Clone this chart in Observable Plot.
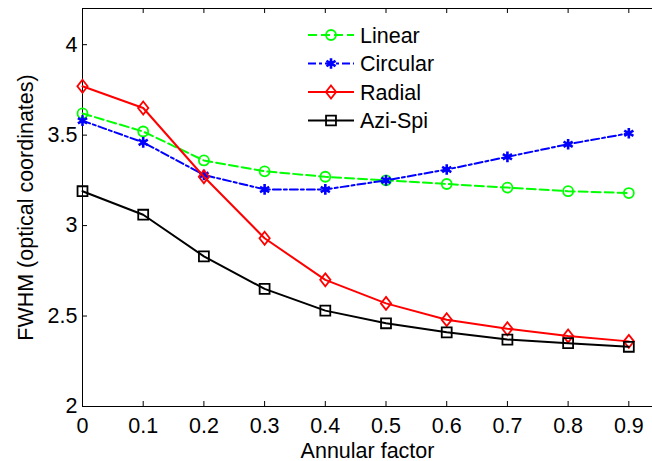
<!DOCTYPE html>
<html><head><meta charset="utf-8">
<script src="https://cdn.jsdelivr.net/npm/d3@7"></script>
<script src="https://cdn.jsdelivr.net/npm/@observablehq/plot@0.6"></script>
<style>
html,body{margin:0;padding:0;background:#fff;overflow:hidden}
</style></head><body><div id="chart"></div>
<script>
const annularFactor = [0, 0.1, 0.2, 0.3, 0.4, 0.5, 0.6, 0.7, 0.8, 0.9];
const linear   = [3.62, 3.52, 3.36, 3.30, 3.27, 3.25, 3.23, 3.21, 3.19, 3.18];
const circular = [3.58, 3.46, 3.28, 3.20, 3.20, 3.25, 3.31, 3.38, 3.45, 3.51];
const radial   = [3.77, 3.65, 3.27, 2.93, 2.70, 2.57, 2.48, 2.43, 2.39, 2.36];
const aziSpi   = [3.19, 3.06, 2.83, 2.65, 2.53, 2.46, 2.41, 2.37, 2.35, 2.33];
const seriesNames = ["Linear", "Circular", "Radial", "Azi-Spi"];
const seriesValues = [linear, circular, radial, aziSpi];
const xTicks = [0, 0.1, 0.2, 0.3, 0.4, 0.5, 0.6, 0.7, 0.8, 0.9];
const yTicks = [2, 2.5, 3, 3.5, 4];
const xLabel = "Annular factor";
const yLabel = "FWHM (optical coordinates)";
const xDomain = [0, 0.939];
const yDomain = [2, 4.2];

// MATLAB-like diamond (wider than d3's)
const matlabDiamond = {
  draw(context, size) {
    const r = Math.sqrt(size / Math.PI);
    const hw = r * 0.95, hh = r * 1.2;
    context.moveTo(0, -hh);
    context.lineTo(hw, 0);
    context.lineTo(0, hh);
    context.lineTo(-hw, 0);
    context.closePath();
  }
};

const styles = [
  {color: "#00ff00", dash: "9,4",     symbol: d3.symbolCircle,   r: 5,   sw: 1.8},
  {color: "#0000ff", dash: "8,3,3,3", symbol: d3.symbolAsterisk, r: 5,   sw: 2.6},
  {color: "#ff0000", dash: null,      symbol: matlabDiamond,     r: 5.4, sw: 1.8},
  {color: "#000000", dash: null,      symbol: d3.symbolSquare,   r: 5.6, sw: 1.8}
];

const W = 652, H = 461, mL = 82, mT = 8, mB = 55, mR = 0;
const plotW = W - mL - mR, plotH = H - mT - mB;
const font = "'Liberation Sans', Arial, Helvetica, sans-serif";
const fontPx = 21.5;

const marks = [];
// frame lines
marks.push(Plot.ruleX([xDomain[0]], {x: d => d, stroke: "black", strokeWidth: 1}));
marks.push(Plot.ruleY([yDomain[0], yDomain[1]], {y: d => d, stroke: "black", strokeWidth: 1}));
// inward ticks
marks.push(Plot.ruleX(xTicks.slice(1), {x: d => d, insetTop: plotH - 5, stroke: "black"}));
marks.push(Plot.ruleX(xTicks.slice(1), {x: d => d, insetBottom: plotH - 5, stroke: "black"}));
marks.push(Plot.ruleY(yTicks, {y: d => d, insetRight: plotW - 5, stroke: "black"}));
// axes (labels only)
marks.push(Plot.axisX({ticks: xTicks, tickSize: 0, tickPadding: 11, tickFormat: d => String(d),
  label: xLabel, labelAnchor: "center", labelArrow: "none", labelOffset: 51, fill: "black"}));
marks.push(Plot.axisY({ticks: yTicks, tickSize: 0, tickPadding: 5, tickFormat: d => String(d),
  label: yLabel, labelAnchor: "center", labelArrow: "none", labelOffset: 65, fill: "black"}));

seriesNames.forEach((name, i) => {
  const s = styles[i];
  const data = annularFactor.map((x, j) => ({x, y: seriesValues[i][j]}));
  marks.push(Plot.line(data, {x: "x", y: "y", stroke: s.color, strokeWidth: 2, strokeDasharray: s.dash || undefined}));
  marks.push(Plot.dot(data, {x: "x", y: "y", symbol: s.symbol, r: s.r, stroke: s.color, fill: "none", strokeWidth: s.sw}));
});

const chart = Plot.plot({
  width: W, height: H,
  marginLeft: mL, marginRight: mR, marginTop: mT, marginBottom: mB,
  x: {domain: xDomain},
  y: {domain: yDomain},
  style: {fontFamily: font, fontSize: fontPx + "px", color: "black", background: "white", overflow: "visible"},
  marks
});
document.getElementById("chart").appendChild(chart);

// legend (inside plot, top-center)
const svg = d3.select(chart);
const lg = svg.append("g").attr("font-family", font).attr("font-size", fontPx).attr("text-anchor", "start");
seriesNames.forEach((name, i) => {
  const s = styles[i];
  const cy = 35 + i * 28.5;
  lg.append("line").attr("x1", 308).attr("x2", 354).attr("y1", cy).attr("y2", cy)
    .attr("stroke", s.color).attr("stroke-width", 2).attr("stroke-dasharray", s.dash || null);
  lg.append("path").attr("d", d3.symbol().type(s.symbol).size(Math.PI * s.r * s.r)())
    .attr("transform", `translate(331,${cy})`).attr("fill", "none").attr("stroke", s.color).attr("stroke-width", s.sw);
  lg.append("text").attr("x", 360).attr("y", cy).attr("dy", "0.36em").attr("fill", "black").text(name);
});
</script></body></html>
